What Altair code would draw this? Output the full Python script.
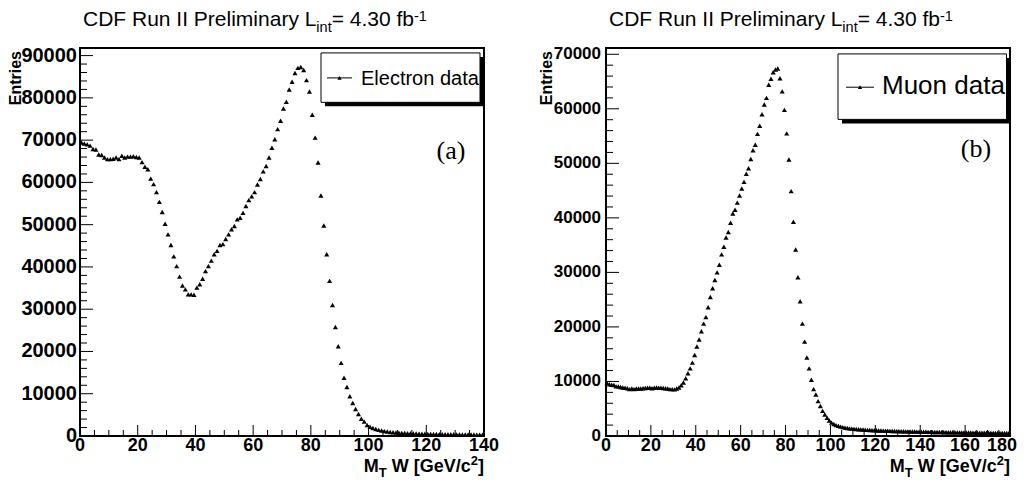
import altair as alt
import pandas as pd

# ---------------- data ----------------
ELECTRON = [
    69450, 69200, 69000, 68700, 67900, 67800, 66600, 66500, 65900, 65500,
    65500, 65600, 65900, 65500, 66300, 65900, 66100, 66100, 66200, 66000,
    65900, 64800, 63700, 63100, 60900, 59600, 57700, 55400, 53000, 50200,
    47700, 45200, 42500, 40200, 37700, 35600, 34700, 33500, 33500, 33400,
    35100, 35900, 37200, 39000, 40200, 41500, 43000, 43800, 45200, 45400,
    46600, 47700, 48900, 49700, 51250, 51650, 52800, 54400, 55800, 56700,
    57700, 59500, 60800, 62600, 63900, 65900, 68200, 70200, 72600, 74600,
    77500, 79100, 82000, 83800, 85900, 87100, 87300, 86600, 84200, 81500,
    76000, 70600, 64700, 56900, 49800, 43000, 36700, 31000, 25800, 21250,
    17300, 13800, 11600, 9400, 7800, 6400, 5200, 4100, 3400, 2600,
    2200, 1900, 1650, 1450, 1300, 1150, 1050, 960, 890, 830,
    780, 740, 700, 670, 640, 610, 590, 570, 550, 530,
    510, 495, 480, 465, 450, 440, 430, 420, 410, 400,
    390, 380, 370, 360, 355, 350, 340, 335, 330, 320,
]
MUON = [
    9700, 9500, 9400, 9350, 9100, 9100, 9000, 8900, 8850, 8750,
    8600, 8700, 8600, 8700, 8700, 8700, 8750, 8800, 8850, 8850,
    8750, 8850, 8900, 8850, 8850, 8800, 8750, 8700, 8600, 8600,
    8550, 8700, 8900, 9300, 9800, 10600, 11500, 12400, 13450, 14850,
    16400, 17700, 19200, 20600, 21800, 23600, 25500, 27100, 28600, 30000,
    31400, 33300, 34700, 36400, 37400, 39100, 40800, 41500, 42800, 44100,
    45400, 46600, 48100, 49100, 50800, 52400, 53400, 55400, 56900, 59000,
    60800, 62000, 64400, 65500, 66700, 67200, 67400, 65600, 63200, 59800,
    55500, 50700, 44900, 39300, 34200, 29100, 24700, 20600, 17300, 14400,
    12400, 10300, 8600, 7600, 6400, 5500, 4600, 3950, 3350, 2850,
    2450, 2200, 2000, 1850, 1720, 1620, 1540, 1470, 1400, 1350,
    1300, 1270, 1240, 1210, 1180, 1150, 1120, 1100, 1080, 1060,
    1040, 1020, 1000, 985, 970, 955, 940, 925, 910, 900,
    890, 875, 865, 855, 845, 835, 825, 815, 805, 795,
    785, 775, 770, 760, 750, 745, 735, 730, 720, 715,
    705, 700, 690, 685, 680, 670, 665, 660, 650, 645,
    640, 635, 630, 620, 615, 610, 605, 600, 595, 590,
    585, 580, 575, 570, 565, 560, 555, 550, 545, 540,
]

E_XMAX, M_XMAX = 140, 180
E_YMAX, M_YMAX = 91800, 71150
E_XMAJOR = [0, 20, 40, 60, 80, 100, 120, 140]
M_XMAJOR = [0, 20, 40, 60, 80, 100, 120, 140, 160, 180]
E_YMAJOR = [0, 10000, 20000, 30000, 40000, 50000, 60000, 70000, 80000, 90000]
M_YMAJOR = [0, 10000, 20000, 30000, 40000, 50000, 60000, 70000]
E_LEGEND = "Electron data"
M_LEGEND = "Muon data"
E_TAG, M_TAG = "(a)", "(b)"
# text pieces: (text, gap before it in em of the main size)
TITLE_PARTS = [("CDF Run II Preliminary L", 0), ("int", 0), ("= 4.30 fb", 0), ("-1", 0)]
XTITLE_PARTS = [("M", 0), ("T", 0), ("W [GeV/c", 0.278), ("2", 0), ("]", 0)]
YTITLE = "Entries"

# ---------------- layout ----------------
PAD_L, PAD_T, PAD_R, PAD_B = 72, 40, 8, 44
H = 388
PW = 404
RX0 = 526
W = RX0 + PW + 1
SANS = "Liberation Sans"
SERIF = "Liberation Serif"

REG = {'C': 722, 'D': 722, 'F': 611, ' ': 278, 'R': 722, 'u': 556, 'n': 556, 'I': 278,
       'P': 667, 'r': 333, 'e': 556, 'l': 222, 'i': 222, 'm': 833, 'a': 556, 'y': 500,
       'L': 556, 't': 278, '=': 584, '4': 556, '.': 278, '3': 556, '0': 556, 'f': 278,
       'b': 556, '-': 333, '1': 556}
BOLD = {'M': 833, 'T': 611, ' ': 278, 'W': 944, '[': 333, 'G': 778, 'e': 556, 'V': 667,
        '/': 278, 'c': 556, '2': 556, ']': 333}


def tw(s, size, table):
    return sum(table[c] for c in s) * size / 1000.0


def ry(page_y):
    # reference page y (plot top 47, bottom 440) -> chart y
    return (page_y - 47) * H / 393.0


ONE = pd.DataFrame({"k": [0]})


def txt(x, y, text, size, font=SANS, weight="normal", align="left", baseline="alphabetic", angle=0):
    kw = dict(text=text, fontSize=size, font=font, fontWeight=weight, align=align,
              baseline=baseline, color="black")
    if angle:
        kw["angle"] = angle
    return alt.Chart(ONE).mark_text(**kw).encode(x=alt.value(x), y=alt.value(y))


def pieces(parts, sizes, bases, main, table, weight, x_start=None, x_end=None):
    widths = [g * main + tw(s, z, table) for (s, g), z in zip(parts, sizes)]
    cx = x_start if x_start is not None else x_end - sum(widths)
    out = []
    for (s, g), z, b in zip(parts, sizes, bases):
        cx += g * main
        out.append(txt(cx, b, s, z, weight=weight))
        cx += tw(s, z, table)
    return out


def panel(counts, xmax, ymax, x0, xmajor, ymajor, ylab_size, ylab_pad,
          legend, leg_box, leg_line, leg_text, leg_size, tag, tag_pos, ytitle_x, last_right):
    xs = alt.Scale(domain=[0, xmax], range=[x0, x0 + PW], nice=False, zero=False)
    ys = alt.Scale(domain=[0, ymax], range=[H, 0], nice=False, zero=False)
    layers = []

    pts = pd.DataFrame({"x": [i + 0.5 for i in range(len(counts))], "y": counts})
    yminor = [v for v in range(0, int(ymax), 2000) if v % 10000 != 0]
    xminor = [v for v in range(0, xmax + 1, 5) if v % 20 != 0]

    # ticks (inside the frame, ROOT style)
    layers.append(alt.Chart(pd.DataFrame({"v": ymajor})).mark_rule(color="black", strokeWidth=1).encode(
        y=alt.Y("v:Q", scale=ys, axis=None), x=alt.value(x0), x2=alt.value(x0 + 13)))
    layers.append(alt.Chart(pd.DataFrame({"v": yminor})).mark_rule(color="black", strokeWidth=1).encode(
        y=alt.Y("v:Q", scale=ys, axis=None), x=alt.value(x0), x2=alt.value(x0 + 7)))
    layers.append(alt.Chart(pd.DataFrame({"v": xmajor})).mark_rule(color="black", strokeWidth=1).encode(
        x=alt.X("v:Q", scale=xs, axis=None), y=alt.value(H), y2=alt.value(H - 11)))
    layers.append(alt.Chart(pd.DataFrame({"v": xminor})).mark_rule(color="black", strokeWidth=1).encode(
        x=alt.X("v:Q", scale=xs, axis=None), y=alt.value(H), y2=alt.value(H - 6)))

    # tick labels
    ylab = pd.DataFrame({"v": ymajor, "t": [str(v) for v in ymajor]})
    layers.append(alt.Chart(ylab).mark_text(align="right", baseline="middle", font=SANS, fontWeight="bold",
                                            fontSize=ylab_size, color="black").encode(
        y=alt.Y("v:Q", scale=ys, axis=None), x=alt.value(x0 - ylab_pad), text="t:N"))
    xl = xmajor[:-1] if last_right else xmajor
    xlab = pd.DataFrame({"v": xl, "t": [str(v) for v in xl]})
    layers.append(alt.Chart(xlab).mark_text(align="center", baseline="alphabetic", font=SANS, fontWeight="bold",
                                            fontSize=18, color="black").encode(
        x=alt.X("v:Q", scale=xs, axis=None), y=alt.value(H + 15), text="t:N"))
    if last_right:
        xlab2 = pd.DataFrame({"v": [xmajor[-1]], "t": [str(xmajor[-1])]})
        layers.append(alt.Chart(xlab2).mark_text(align="right", dx=7, baseline="alphabetic", font=SANS,
                                                 fontWeight="bold", fontSize=18, color="black").encode(
            x=alt.X("v:Q", scale=xs, axis=None), y=alt.value(H + 15), text="t:N"))

    # data points
    layers.append(alt.Chart(pts).mark_point(shape="triangle-up", filled=True, size=26, color="black",
                                            opacity=1).encode(
        x=alt.X("x:Q", scale=xs, axis=None), y=alt.Y("y:Q", scale=ys, axis=None)))

    # frame
    layers.append(alt.Chart(ONE).mark_rect(fillOpacity=0, stroke="black", strokeWidth=2).encode(
        x=alt.value(x0), x2=alt.value(x0 + PW), y=alt.value(0), y2=alt.value(H)))

    # legend
    bx1, by1, bx2, by2 = leg_box
    layers.append(alt.Chart(ONE).mark_rect(color="black").encode(
        x=alt.value(bx1 + 4), x2=alt.value(bx2 + 4), y=alt.value(by1 + 4), y2=alt.value(by2 + 4)))
    layers.append(alt.Chart(ONE).mark_rect(fill="white", stroke="black", strokeWidth=1).encode(
        x=alt.value(bx1), x2=alt.value(bx2), y=alt.value(by1), y2=alt.value(by2)))
    lx1, lx2, ly = leg_line
    layers.append(alt.Chart(ONE).mark_rule(color="black", strokeWidth=1).encode(
        x=alt.value(lx1), x2=alt.value(lx2), y=alt.value(ly)))
    layers.append(alt.Chart(ONE).mark_point(shape="triangle-up", filled=True, size=18, color="black",
                                            opacity=1).encode(x=alt.value((lx1 + lx2) / 2), y=alt.value(ly)))
    layers.append(txt(leg_text[0], leg_text[1], legend, leg_size))

    # panel tag
    layers.append(txt(tag_pos[0], tag_pos[1], tag, 26, font=SERIF, align="center"))

    # y title
    layers.append(txt(ytitle_x, 3, YTITLE, 16, weight="bold", align="right", angle=270))

    # x title (M_T W [GeV/c^2]) right aligned at frame edge
    layers += pieces(XTITLE_PARTS, [18, 13, 18, 13, 18], [H + 36, H + 41, H + 36, H + 29, H + 36],
                     18, BOLD, "bold", x_end=x0 + PW)
    # title (CDF Run II Preliminary L_int= 4.30 fb^-1)
    layers += pieces(TITLE_PARTS, [21, 14.5, 21, 14.5], [-22, -16, -22, -27],
                     21, REG, "normal", x_start=x0 + 3)
    return layers


left_layers = panel(ELECTRON, E_XMAX, E_YMAX, 0, E_XMAJOR, E_YMAJOR, 20, 3, E_LEGEND,
                    (321 - 80, ry(52), 480 - 80, ry(102)), (327 - 80, 352 - 80, ry(77.3)),
                    (361 - 80, ry(84)), 20, E_TAG, (451 - 80, ry(159)), 20.5 - 80, False)

right_layers = panel(MUON, M_XMAX, M_YMAX, RX0, M_XMAJOR, M_YMAJOR, 17, 5, M_LEGEND,
                     (838 - 80, ry(53), 1006.5 - 80, ry(119.3)), (846 - 80, 874 - 80, ry(86.7)),
                     (882 - 80, ry(93.3)), 26, M_TAG, (976 - 80, ry(157)), 552 - 80, True)

chart = alt.layer(alt.layer(*left_layers), alt.layer(*right_layers)).resolve_scale(
    x="independent", y="independent"
).properties(
    width=W, height=H,
    padding={"left": PAD_L, "top": PAD_T, "right": PAD_R, "bottom": PAD_B},
    autosize=alt.AutoSizeParams(type="none"),
    background="white",
).configure_view(stroke=None)

chart.save("out.html", embed_options={"renderer": "svg", "actions": False})
